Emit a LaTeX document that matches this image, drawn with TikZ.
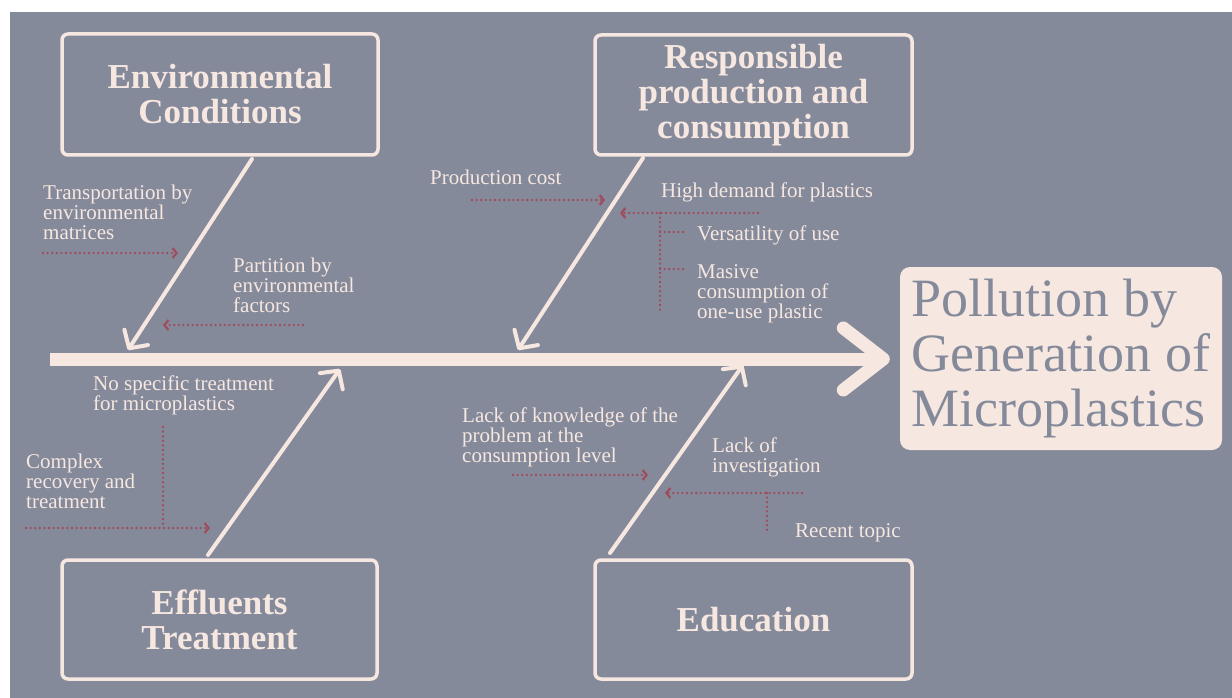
\documentclass[tikz,border=0pt]{standalone}
\usepackage{fontspec}
\setmainfont{Liberation Serif}
\usetikzlibrary{arrows.meta}
\definecolor{bggray}{RGB}{133,138,155}
\definecolor{pinkc}{RGB}{246,231,225}
\definecolor{dotred}{RGB}{158,76,94}
\tikzset{
  catbox/.style={draw=pinkc, line width=3.5pt, rounded corners=6pt, text=pinkc,
    font=\fontsize{35}{35}\selectfont\bfseries, align=center, inner sep=0pt},
  titlebox/.style={fill=pinkc, rounded corners=10pt, minimum width=322pt, minimum height=183pt,
    text=bggray, font=\fontsize{54}{55}\selectfont, align=left, inner sep=0pt},
  lbl/.style={text=pinkc, font=\fontsize{21}{20}\selectfont, align=left, anchor=base west, inner sep=0pt},
  spine/.style={draw=pinkc, line width=13pt, shorten >=10pt,
    -{Straight Barb[length=40pt,width=62pt,round]}},
  branch/.style={draw=pinkc, line width=4pt, line cap=round,
    -{Straight Barb[length=13pt,width=28pt,round]}},
  dotline/.style={draw=dotred, line width=2.6pt, dash pattern=on 0pt off 4.6pt, line cap=round},
  dotarrow/.style={dotline, -{Straight Barb[length=4pt,width=10pt,line width=2.2pt]}}
}
\begin{document}
\begin{tikzpicture}[x=1pt,y=-1pt]
\useasboundingbox (0,0) rectangle (1232,698);
\fill[white] (0,0) rectangle (1232,698);
\fill[bggray] (10,12) rectangle (1232,698);

% category boxes
\node[catbox, minimum width=316pt, minimum height=121pt] (env) at (220,94.5) {Environmental\\Conditions};
\node[catbox, minimum width=317pt, minimum height=120pt] (resp) at (753.5,95) {Responsible\\production and\\consumption};
\node[catbox, minimum width=315pt, minimum height=119pt] (eff) at (219.5,619.5) {Effluents\\Treatment};
\node[catbox, minimum width=317pt, minimum height=119pt] (edu) at (753.5,619.5) {Education};
\node[titlebox] (title) at (1061,358.5) {Pollution by\\Generation of\\Microplastics};

% spine
\coordinate (spL) at (50,359);
\draw[spine] (spL) -- (title.west |- spL);

% branches
\coordinate (envA) at (252,159);  \coordinate (envB) at (128,350);
\coordinate (respA) at (643,158); \coordinate (respB) at (518,350);
\coordinate (effA) at (208,555);  \coordinate (effB) at (340,369);
\coordinate (eduA) at (610,553);  \coordinate (eduB) at (743,365);
\draw[branch] (envA) -- (envB);
\draw[branch] (respA) -- (respB);
\draw[branch] (effA) -- (effB);
\draw[branch] (eduA) -- (eduB);

% labels (anchored at the baseline of their last line)
\node[lbl] (l1) at (43,239) {Transportation by\\environmental\\matrices};
\node[lbl] (l2) at (233,312) {Partition by\\environmental\\factors};
\node[lbl] (l3) at (430,185) {Production cost};
\node[lbl] (l4) at (661,197) {High demand for plastics};
\node[lbl] (l5) at (697,240) {Versatility of use};
\node[lbl] (l6) at (697,318) {Masive\\consumption of\\one-use plastic};
\node[lbl] (l7) at (93,410) {No specific treatment\\for microplastics};
\node[lbl] (l8) at (26,508) {Complex\\recovery and\\treatment};
\node[lbl] (l9) at (462,462) {Lack of knowledge of the\\problem at the\\consumption level};
\node[lbl] (l10) at (712,472) {Lack of\\investigation};
\node[lbl] (l11) at (795,537) {Recent topic};

% dotted connectors
\coordinate (d1a) at (43,253);  \coordinate (d1b) at (178,253);
\draw[dotarrow] (d1a) -- (d1b);
\coordinate (d2a) at (303,325); \coordinate (d2b) at (163,325);
\draw[dotarrow] (d2a) -- (d2b);
\coordinate (d3a) at (472,200); \coordinate (d3b) at (605,200);
\draw[dotarrow] (d3a) -- (d3b);
\coordinate (d4a) at (758,213); \coordinate (d4b) at (620,213);
\draw[dotarrow] (d4a) -- (d4b);
\coordinate (d4t) at (660,213); \coordinate (d4u) at (660,313);
\draw[dotline] (d4t) -- (d4u);
\coordinate (d4p) at (660,232); \coordinate (d4q) at (687,232);
\draw[dotline] (d4p) -- (d4q);
\coordinate (d4r) at (660,269); \coordinate (d4s) at (687,269);
\draw[dotline] (d4r) -- (d4s);
\coordinate (d5a) at (26,528);  \coordinate (d5b) at (210,528);
\draw[dotarrow] (d5a) -- (d5b);
\coordinate (d5t) at (163,427); \coordinate (d5u) at (163,528);
\draw[dotline] (d5t) -- (d5u);
\coordinate (d6a) at (513,475); \coordinate (d6b) at (648,475);
\draw[dotarrow] (d6a) -- (d6b);
\coordinate (d7a) at (802,493); \coordinate (d7b) at (665,493);
\draw[dotarrow] (d7a) -- (d7b);
\coordinate (d7t) at (767,493); \coordinate (d7u) at (767,533);
\draw[dotline] (d7t) -- (d7u);
\end{tikzpicture}
\end{document}
